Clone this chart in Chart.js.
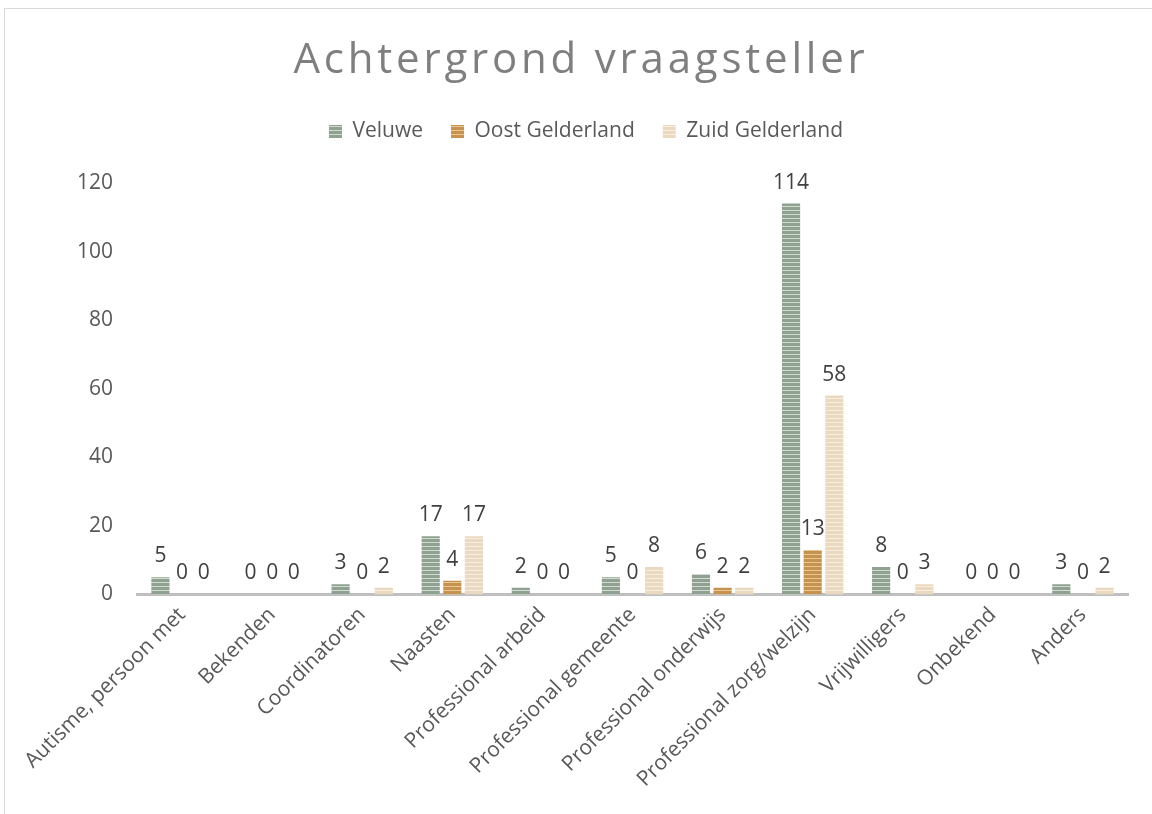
<!DOCTYPE html>
<html>
<head>
<meta charset="utf-8">
<title>Achtergrond vraagsteller</title>
<script src="https://cdn.jsdelivr.net/npm/chart.js@4.4.1/dist/chart.umd.min.js"></script>
<style>
  html, body { margin: 0; padding: 0; background: #fff; }
  #frame { position: absolute; left: 4px; top: 8px; width: 1200px; height: 900px; border: 1px solid #d9d9d9; }
  #wrap { position: absolute; left: 0; top: 0; width: 1152px; height: 814px; }
</style>
</head>
<body>
<div id="frame"></div>
<div id="wrap"><canvas id="chart"></canvas></div>
<script>
const titleText = 'Achtergrond vraagsteller';
const categories = [
  'Autisme, persoon met', 'Bekenden', 'Coordinatoren', 'Naasten', 'Professional arbeid',
  'Professional gemeente', 'Professional onderwijs', 'Professional zorg/welzijn',
  'Vrijwilligers', 'Onbekend', 'Anders'
];
const veluwe = [5, 0, 3, 17, 2, 5, 6, 114, 8, 0, 3];
const oostGelderland = [0, 0, 0, 4, 0, 0, 2, 13, 0, 0, 0];
const zuidGelderland = [0, 0, 2, 17, 0, 8, 2, 58, 3, 0, 2];
const yMax = 120;
const yStep = 20;

// horizontal stripes like the Excel fill
function stripes(dark, light) {
  const c = document.createElement('canvas');
  c.width = 4; c.height = 4;
  const g = c.getContext('2d');
  g.fillStyle = dark;
  g.fillRect(0, 0, 4, 4);
  g.fillStyle = light;
  g.fillRect(0, 2, 4, 1);
  return g.createPattern(c, 'repeat');
}

const spacedTitle = {
  id: 'spacedTitle',
  afterDraw(chart) {
    const ctx = chart.ctx;
    ctx.save();
    ctx.font = '42px "Open Sans"';
    ctx.letterSpacing = '3.8px';
    ctx.fillStyle = '#7f7f7f';
    ctx.textAlign = 'center';
    ctx.textBaseline = 'alphabetic';
    ctx.fillText(titleText, 581, 73);
    ctx.restore();
  }
};

// extra room under the legend
const legendGap = {
  id: 'legendGap',
  beforeInit(chart) {
    const fit = chart.legend.fit;
    chart.legend.fit = function () {
      fit.call(this);
      this.height += 31;
    };
  }
};

const valueLabels = {
  id: 'valueLabels',
  afterDatasetsDraw(chart) {
    const ctx = chart.ctx;
    ctx.save();
    ctx.font = '21px "Open Sans"';
    ctx.fillStyle = '#404040';
    ctx.textAlign = 'center';
    ctx.textBaseline = 'alphabetic';
    chart.data.datasets.forEach((ds, i) => {
      chart.getDatasetMeta(i).data.forEach((bar, j) => {
        ctx.fillText(String(ds.data[j]), bar.x, bar.y - 15);
      });
    });
    ctx.restore();
  }
};

new Chart('chart', {
  type: 'bar',
  data: {
    labels: categories,
    datasets: [
      { label: 'Veluwe', data: veluwe, backgroundColor: stripes('#8fa190', '#d2dbd2') },
      { label: 'Oost Gelderland', data: oostGelderland, backgroundColor: stripes('#c6924e', '#e6c894') },
      { label: 'Zuid Gelderland', data: zuidGelderland, backgroundColor: stripes('#ead9be', '#f7efe2') }
    ]
  },
  options: {
    responsive: true,
    maintainAspectRatio: false,
    animation: false,
    categoryPercentage: 0.72,
    barPercentage: 0.84,
    layout: { padding: { top: 93, left: 44, right: 24, bottom: 14 } },
    plugins: {
      title: { display: false },
      tooltip: { enabled: false },
      legend: {
        position: 'top',
        labels: {
          color: '#595959',
          font: { family: 'Open Sans', size: 21 },
          boxWidth: 13,
          boxHeight: 13,
          padding: 28
        }
      }
    },
    scales: {
      x: {
        grid: { display: false, drawTicks: false },
        border: { display: true, color: '#bfbfbf', width: 3 },
        afterFit(scale) {
          // let the first slanted label run into the margin, as in Excel
          scale.paddingLeft = 0;
          scale.paddingRight = 0;
        },
        ticks: {
          color: '#595959',
          font: { family: 'Open Sans', size: 21 },
          minRotation: 45,
          maxRotation: 45,
          autoSkip: false,
          padding: 8
        }
      },
      y: {
        min: 0,
        max: yMax,
        grid: { display: false, drawTicks: false },
        border: { display: false },
        afterFit(scale) {
          scale.width = 93;
        },
        ticks: {
          stepSize: yStep,
          color: '#595959',
          font: { family: 'Open Sans', size: 21 },
          padding: 24
        }
      }
    }
  },
  plugins: [spacedTitle, legendGap, valueLabels]
});
</script>
</body>
</html>
